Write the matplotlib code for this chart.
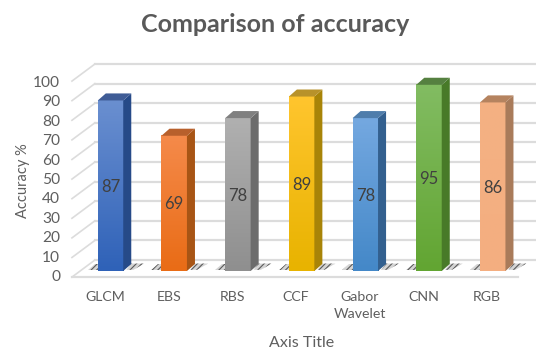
import numpy as np
import matplotlib.pyplot as plt
from matplotlib.colors import LinearSegmentedColormap
from matplotlib.patches import Polygon

plt.rcParams['font.family'] = ['Lato', 'DejaVu Sans']
plt.rcParams['hatch.linewidth'] = 0.8

categories = ['GLCM', 'EBS', 'RBS', 'CCF', 'Gabor\nWavelet', 'CNN', 'RGB']
accuracy = [87, 69, 78, 89, 78, 95, 86]
y_ticks = [0, 10, 20, 30, 40, 50, 60, 70, 80, 90, 100]

# top colour, bottom colour, side colour, cap colour
top_colors = ['#6a8fd0', '#f58a4a', '#b0b0b0', '#ffc52e', '#74a8e0', '#82bc62', '#f4b183']
bottom_colors = ['#2f62b8', '#e96c16', '#8f8f8f', '#e8b300', '#4488c8', '#62a532', '#f4ae80']
side_colors = ['#264a88', '#a85515', '#6c6c6c', '#a88408', '#33608f', '#487a28', '#a97b5a']
cap_colors = ['#3f5c96', '#b8602c', '#808080', '#b8922a', '#4f7dab', '#558040', '#b5835f']

W, H = 536, 352
bar_w = 0.4
dx, dy = 0.126, 3.6          # depth of a bar
wall_dx, wall_dy = 0.36, 8.7  # depth of the floor

fig = plt.figure(figsize=(W / 100, H / 100), dpi=100)
ax = fig.add_axes([0, 0, 1, 1])
ax.axis('off')
grid_c = '#dcdcdc'

# back wall gridlines and the left side wall
x_left = -0.605
x_right = 6.4
for t in y_ticks:
    ax.plot([x_left + wall_dx, x_right + wall_dx], [t + wall_dy - 3.1] * 2, color=grid_c, lw=1.6, zorder=1)
    ax.plot([x_left, x_left + wall_dx], [t - 3.1, t + wall_dy - 3.1], color=grid_c, lw=1.2, zorder=1)
ax.plot([x_left, x_right], [-3.1, -3.1], color=grid_c, lw=1.6, zorder=1)

for i, v in enumerate(accuracy):
    l, r = i - bar_w / 2, i + bar_w / 2
    # speckled shadow on the floor either side of the base
    for pts in ([(l - 0.16, 0.6), (l, 0.6), (l, 3.6), (l - 0.05, 3.6)],
                [(r + 0.05, 0.6), (r + 0.16, 0.6), (r + 0.33, 3.8), (r + dx, 3.8)]):
        ax.add_patch(Polygon(pts, closed=True, facecolor='#d4d4d4', edgecolor='#5a5a5a',
                             hatch='//////', lw=0, zorder=2))
    cmap = LinearSegmentedColormap.from_list('bar', [top_colors[i], bottom_colors[i]])
    ax.imshow(np.linspace(0, 1, 64).reshape(-1, 1), cmap=cmap, extent=(l, r, 0, v),
              aspect='auto', origin='upper', zorder=3)
    ax.add_patch(Polygon([(r, 0), (r + dx, dy), (r + dx, v + dy), (r, v)], closed=True,
                         facecolor=side_colors[i], lw=0, zorder=3))
    ax.add_patch(Polygon([(l, v), (r, v), (r + dx, v + dy), (l + dx, v + dy)], closed=True,
                         facecolor=cap_colors[i], lw=0, zorder=3))
    ax.text(i, v / 2 - 0.5, str(v), ha='center', va='center', fontsize=12, color='#404040', zorder=4)
    ax.text(i - 0.085, -10.4, categories[i], ha='center', va='top', fontsize=10.2, color='#5f5f5f',
            linespacing=1.45)

for t in y_ticks:
    ax.text(-0.79, t * 0.99 - 3.1, str(t), ha='right', va='center', fontsize=11.2, color='#5f5f5f')

ax.text(-1.38, 46, 'Accuracy %', rotation=90, ha='center', va='center', fontsize=10.5, color='#5f5f5f')
ax.text(3.0, -36.5, 'Axis Title', ha='center', va='center', fontsize=11.5, color='#5f5f5f')
ax.text(2.58, 126, 'Comparison of accuracy', ha='center', va='center', fontsize=18,
        fontweight='bold', color='#595959')

# y scale: 0 sits 271 px from the top edge at 1.96 px per unit
ax.set_xlim(-110.5 / 63.7, (W - 110.5) / 63.7)
ax.set_ylim((271 - H) / 1.96, 271 / 1.96)

fig.savefig('out.png', dpi=100)
